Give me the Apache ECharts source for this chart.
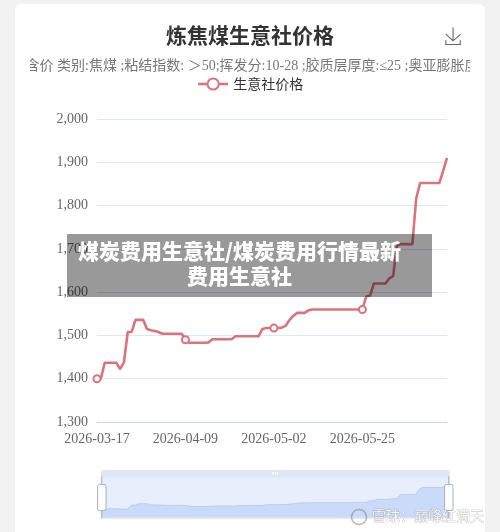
<!DOCTYPE html>
<html><head><meta charset="utf-8">
<style>html,body{margin:0;padding:0;background:#f2f2f2}#c{width:500px;height:532px;filter:blur(0.4px)}</style>
<script src="https://cdn.jsdelivr.net/npm/echarts@6/dist/echarts.min.js"></script>
</head><body><div id="c"></div>
<script>
const titleText = '炼焦煤生意社价格';
const subText = '含价 类别:焦煤 ;粘结指数: ＞50;挥发分:10-28 ;胶质层厚度:≤25 ;奥亚膨胀度';
const seriesName = '生意社价格';
const bannerText = '煤炭费用生意社/煤炭费用行情最新\n费用生意社';
const watermark = '雪球：巅峰红满天';
const dates = [
'2026-03-17','2026-03-18','2026-03-19','2026-03-20','2026-03-21','2026-03-22','2026-03-23','2026-03-24','2026-03-25','2026-03-26','2026-03-27','2026-03-28','2026-03-29','2026-03-30','2026-03-31',
'2026-04-01','2026-04-02','2026-04-03','2026-04-04','2026-04-05','2026-04-06','2026-04-07','2026-04-08','2026-04-09','2026-04-10','2026-04-11','2026-04-12','2026-04-13','2026-04-14','2026-04-15','2026-04-16','2026-04-17','2026-04-18','2026-04-19','2026-04-20','2026-04-21','2026-04-22','2026-04-23','2026-04-24','2026-04-25','2026-04-26','2026-04-27','2026-04-28','2026-04-29','2026-04-30',
'2026-05-01','2026-05-02','2026-05-03','2026-05-04','2026-05-05','2026-05-06','2026-05-07','2026-05-08','2026-05-09','2026-05-10','2026-05-11','2026-05-12','2026-05-13','2026-05-14','2026-05-15','2026-05-16','2026-05-17','2026-05-18','2026-05-19','2026-05-20','2026-05-21','2026-05-22','2026-05-23','2026-05-24','2026-05-25','2026-05-26','2026-05-27','2026-05-28','2026-05-29','2026-05-30','2026-05-31',
'2026-06-01','2026-06-02','2026-06-03','2026-06-04','2026-06-05','2026-06-06','2026-06-07','2026-06-08','2026-06-09','2026-06-10','2026-06-11','2026-06-12','2026-06-13','2026-06-14','2026-06-15','2026-06-16'];
const prices = [
1400,1400,1437,1437,1437,1437,1422,1438,1508,1508,
1536,1536,1536,1515,1512,1510,1508,1504,1504,1504,
1504,1504,1504,1490,1483,1483,1483,1483,1483,1484,
1491,1491,1491,1491,1491,1491,1498,1498,1498,1498,
1498,1498,1498,1515,1517,1517,1517,1517,1518,1522,
1535,1545,1552,1552,1552,1558,1560,1560,1560,1560,
1560,1560,1560,1560,1560,1560,1560,1560,1560,1560,
1590,1592,1620,1620,1620,1620,1632,1637,1708,1711,
1711,1711,1711,1817,1852,1852,1852,1852,1852,1852,
1880,1910];
const lineColor = '#d9747e';
const serif = '"Liberation Serif","Noto Sans CJK SC",serif';
const cjk = '"Noto Sans CJK SC",sans-serif';
const chart = echarts.init(document.getElementById('c'));
chart.setOption({
  backgroundColor:'#f2f2f2',
  animation:false,
  title:{text:titleText,left:'center',top:20,
    textStyle:{fontSize:21,fontWeight:'bold',color:'#333',fontFamily:cjk}},
  toolbox:{show:true,right:22,top:10,itemSize:17,feature:{saveAsImage:{title:''}},
    iconStyle:{borderColor:'#666',borderWidth:1.1}},
  legend:{data:[seriesName],top:72,left:'center',itemWidth:30,itemHeight:14,itemGap:8,
    lineStyle:{width:2.6},itemStyle:{borderWidth:2.5},
    textStyle:{fontSize:14,color:'#333',fontFamily:cjk}},
  grid:{left:97,right:53,top:119,bottom:110},
  xAxis:{type:'category',boundaryGap:false,data:dates,
    axisLine:{lineStyle:{color:'#ccd3de'}},axisTick:{show:false},
    axisLabel:{interval:22,fontSize:14,color:'#666',fontFamily:serif,margin:10}},
  yAxis:{type:'value',min:1300,max:2000,interval:100,
    axisLine:{show:false},axisTick:{show:false},
    splitLine:{lineStyle:{color:'#e0e6f1'}},
    axisLabel:{fontSize:14,color:'#666',fontFamily:serif,margin:9,padding:[4,0,0,0]}},
  dataZoom:[{type:'slider',start:0,end:100,left:98,right:53,top:470,height:42,brushSelect:true,
    showDetail:false,showDataShadow:true,
    fillerColor:'rgba(135,175,245,0.2)',
    borderColor:'#e0e6f1',
    moveHandleStyle:{color:'#dde6f5',opacity:1},
    handleStyle:{color:'#fff',borderColor:'#a8b0c0'},
    dataBackground:{lineStyle:{color:'#b8c4d8'},areaStyle:{color:'#dbe7fb',opacity:1}},
    selectedDataBackground:{lineStyle:{color:'#aebad0'},areaStyle:{color:'#dbe7fb',opacity:1}}}],
  series:[{name:seriesName,type:'line',data:prices,symbol:'emptyCircle',symbolSize:7,
    showSymbol:true,showAllSymbol:false,
    lineStyle:{color:lineColor,width:2.6},itemStyle:{color:lineColor,borderWidth:2}}],
  graphic:[
    {type:'rect',z:-1,silent:true,shape:{x:15,y:4,width:470,height:540,r:6},style:{fill:'#fff'}},
    {type:'text',z:50,x:252,y:66,style:{text:subText,fontSize:14,fill:'#777',fontFamily:serif,align:'center',verticalAlign:'middle'}},
    {type:'rect',z:51,silent:true,shape:{x:15,y:54,width:15,height:20},style:{fill:'#fff'}},
    {type:'rect',z:51,silent:true,shape:{x:470,y:54,width:15,height:20},style:{fill:'#fff'}},
    {type:'rect',z:52,silent:true,shape:{x:0,y:54,width:15,height:20},style:{fill:'#f2f2f2'}},
    {type:'rect',z:52,silent:true,shape:{x:485,y:54,width:15,height:20},style:{fill:'#f2f2f2'}},
    {type:'rect',z:60,silent:true,shape:{x:67,y:234,width:365,height:63},style:{fill:'rgba(0,0,0,0.4)'}},
    {type:'text',z:61,silent:true,x:239.5,y:264,style:{text:bannerText,fontSize:21,fontWeight:900,fill:'#fff',
      align:'center',verticalAlign:'middle',lineHeight:25,fontFamily:cjk}},
    {type:'text',z:61,silent:true,x:372,y:509,style:{text:watermark,fontSize:14,fill:'rgba(255,255,255,0.85)',
      stroke:'rgba(120,120,120,0.55)',lineWidth:0.6,fontFamily:cjk}},
    {type:'circle',z:61,silent:true,shape:{cx:359,cy:517,r:7.5},style:{fill:'none',stroke:'rgba(150,150,150,0.7)',lineWidth:1.5}}
  ]
});
</script></body></html>
